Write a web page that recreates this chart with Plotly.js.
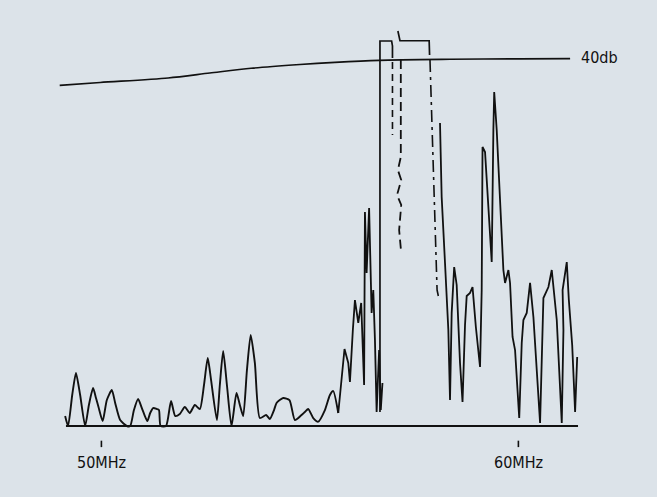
<!DOCTYPE html>
<html>
<head>
<meta charset="utf-8">
<script src="https://cdn.plot.ly/plotly-3.0.1.min.js"></script>
<style>html,body{margin:0;padding:0;background:#dce3e9;}#chart{width:657px;height:497px;}</style>
</head>
<body>
<div id="chart"></div>
<script>
// Spectrum trace, low part (MHz, dB above baseline)
var freqLow = [49.13,49.20,49.30,49.39,49.49,49.61,49.70,49.80,49.87,49.93,50.03,50.13,50.25,50.33,50.45,50.61,50.69,50.78,50.88,50.97,51.10,51.17,51.24,51.33,51.38,51.42,51.55,51.67,51.77,51.88,52.00,52.12,52.24,52.36,52.46,52.55,52.63,52.77,52.84,52.92,53.01,53.12,53.24,53.32,53.40,53.49,53.58,53.68,53.80,53.95,54.04,54.14,54.20,54.36,54.51,54.64,54.80,54.88,54.96,55.08,55.20,55.36,55.48,55.56,55.68];
var levelLow = [1.09,0,3.38,5.78,3.38,0,2.29,4.14,3.05,2.07,0.54,2.83,3.92,2.51,0.65,0,0,1.74,2.94,1.96,0.54,1.42,1.96,1.85,1.74,0,0,2.72,1.09,1.31,2.07,1.42,2.29,1.85,4.47,7.41,5.01,0.65,4.47,8.17,4.47,0,3.60,2.29,1.09,6.10,9.92,6.87,0.87,1.20,0.76,1.74,2.51,3.05,2.83,0.65,1.20,1.53,1.85,0.87,0.47,1.74,3.38,3.81,1.42];
// Spectrum trace, rising part before the gate
var freqMid = [55.68,55.83,55.92,55.96,56.03,56.08,56.16,56.23,56.30,56.32,56.36,56.42,56.48,56.52,56.56,56.60,56.66,56.70,56.74];
var levelMid = [1.42,8.39,6.87,4.80,10.46,13.73,11.23,13.41,4.47,23.32,16.68,23.76,12.32,14.82,9.37,1.53,8.28,1.74,4.69];
// Spectrum trace, upper part after the gate
var freqHigh = [58.12,58.16,58.24,58.32,58.36,58.40,58.46,58.52,58.60,58.66,58.72,58.76,58.84,58.90,58.98,59.08,59.12,59.14,59.20,59.27,59.36,59.40,59.42,59.48,59.56,59.64,59.68,59.76,59.80,59.86,59.92,60.02,60.08,60.12,60.20,60.28,60.36,60.52,60.60,60.72,60.80,60.92,61.04,61.08,61.06,61.16,61.21,61.29,61.36,61.41];
var levelHigh = [33.02,24.96,17.77,10.46,2.83,12.32,17.33,15.37,6.87,2.62,11.01,14.17,14.50,15.15,10.79,6.43,14.82,30.41,29.86,24.63,17.87,32.26,36.40,32.26,24.63,17.00,15.59,17.00,15.59,9.70,8.28,0.87,9.05,11.55,12.32,15.59,11.88,0.33,13.95,15.15,17.00,11.55,0.33,10.46,14.82,17.87,13.73,8.83,1.53,7.52];
// 40 dB reference curve
var freqRef = [49.00,49.97,51.60,52.60,53.59,54.76,55.60,56.66,58.36,60.04,61.24];
var levelRef = [37.13,37.44,37.93,38.47,38.99,39.40,39.64,39.86,39.97,40.02,40.03];
// Gate outline and markers
var freqGate = [56.68,56.68,56.96,56.98,56.98];
var levelGate = [1.53,41.96,41.96,41.42,40.11];
var freqGateDash = [56.98,56.98];
var levelGateDash = [39.67,31.72];
var freqInner = [57.18,57.18,57.11,57.19,57.09,57.19,57.14,57.19];
var levelInner = [39.89,29.32,27.90,26.81,25.18,24.09,21.36,18.86];
var freqBracket = [57.11,57.16,57.86,57.87];
var levelBracket = [43.05,41.99,41.99,40.43];
var freqMarker = [57.88,57.95,58.05,58.08];
var levelMarker = [39.89,30.08,14.82,14.17];
var baseFreq = [49.15,61.43];
var baseLevel = [0,0];
var tickFreqs = [50,60];
var tickLabels = ["50MHz","60MHz"];
var refLabel = "40db";

var ink = '#111111';
function ln(x,y,opts){
  opts = opts || {};
  return {x:x,y:y,type:'scatter',mode:'lines',hoverinfo:'skip',showlegend:false,
    line:{color:ink,width:opts.w||1.8,dash:opts.dash||'solid',shape:opts.shape||'linear',smoothing:opts.sm||0}};
}
var traces = [
  ln(baseFreq, baseLevel, {w:2}),
  ln(freqRef, levelRef, {w:1.7, shape:'spline', sm:0.8}),
  ln(freqLow, levelLow, {w:1.9, shape:'spline', sm:0.6}),
  ln(freqMid, levelMid, {w:1.8}),
  ln(freqHigh, levelHigh, {w:1.8}),
  ln(freqGate, levelGate, {w:1.7}),
  ln(freqGateDash, levelGateDash, {w:1.6, dash:'7px,5px'}),
  ln(freqInner, levelInner, {w:1.8, dash:'9px,5px'}),
  ln(freqBracket, levelBracket, {w:1.7}),
  ln(freqMarker, levelMarker, {w:1.6, dash:'12px,5px,3px,5px'})
];
tickFreqs.forEach(function(f){
  traces.push(ln([f,f],[-1.6,-2.3],{w:1.6}));
});

var fnt = {family:'"Liberation Sans Narrow","DejaVu Sans Condensed",sans-serif',size:16,color:ink};
var annotations = tickFreqs.map(function(f,i){
  return {x:f,y:-4.0,xref:'x',yref:'y',text:tickLabels[i],showarrow:false,xanchor:'center',yanchor:'middle',font:fnt};
});
annotations.push({x:61.45,y:40.2,xref:'x',yref:'y',text:refLabel,showarrow:false,xanchor:'left',yanchor:'middle',font:fnt});

var layout = {
  width:657,height:497,
  margin:{l:0,r:0,t:0,b:0,pad:0},
  paper_bgcolor:'#dce3e9',plot_bgcolor:'#dce3e9',
  xaxis:{range:[47.568,63.324],visible:false,fixedrange:true},
  yaxis:{range:[-7.738,46.43],visible:false,fixedrange:true},
  annotations:annotations,
  showlegend:false
};
Plotly.newPlot('chart',traces,layout,{staticPlot:true,displayModeBar:false});
</script>
</body>
</html>
